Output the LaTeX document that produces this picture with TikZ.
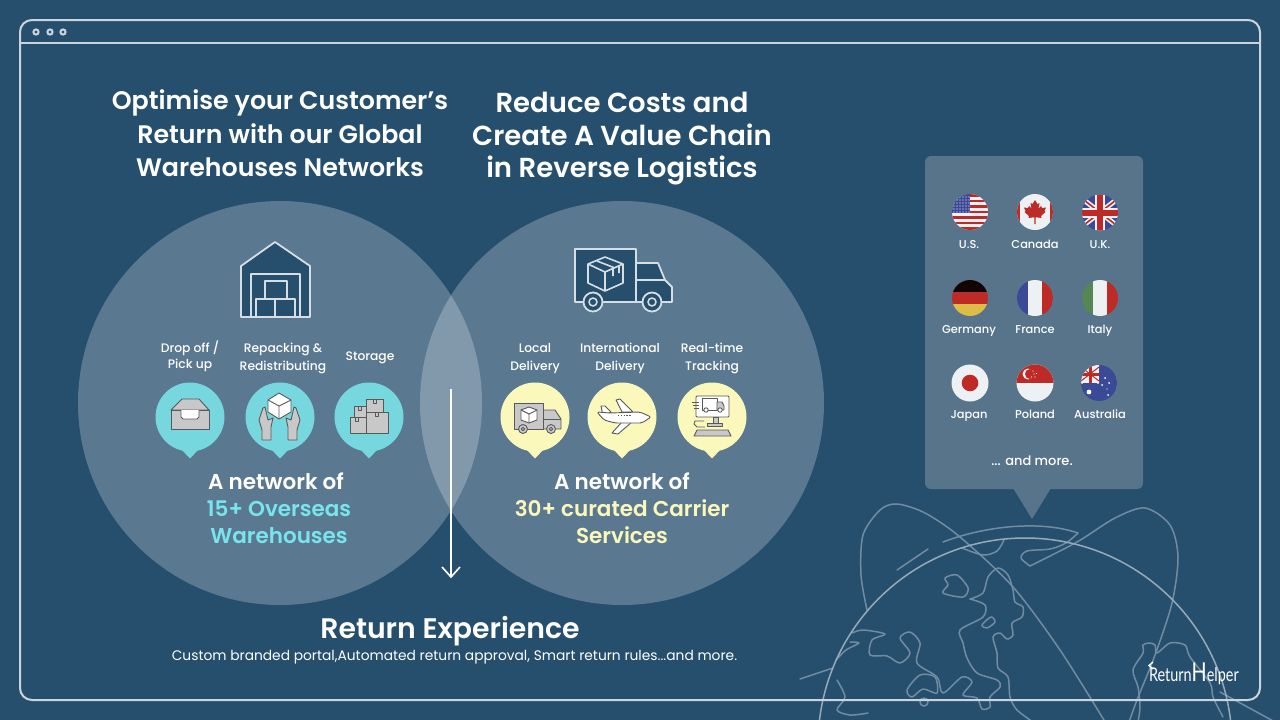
\documentclass[tikz,border=0pt]{standalone}
\usepackage{fontspec}
\setmainfont{Poppins}
\newfontfamily\med{Poppins Medium}
\newfontfamily\semi{Poppins SemiBold}
\definecolor{bgc}{RGB}{38,79,110}
\definecolor{framec}{RGB}{203,212,220}
\definecolor{panelc}{RGB}{87,116,138}
\definecolor{tealc}{RGB}{118,215,222}
\definecolor{tealt}{RGB}{122,228,236}
\definecolor{yelc}{RGB}{251,248,188}
\definecolor{globec}{RGB}{112,140,162}
\definecolor{globem}{RGB}{150,170,186}
\definecolor{icong}{RGB}{200,200,200}
\definecolor{icons}{RGB}{88,89,91}
\definecolor{iconl}{RGB}{215,222,226}
\definecolor{fred}{RGB}{190,42,38}
\definecolor{fblue}{RGB}{58,74,150}
\definecolor{fwhite}{RGB}{238,241,244}
\definecolor{fgreen}{RGB}{85,135,85}
\definecolor{fgold}{RGB}{220,190,70}
\newcommand{\fs}[1]{\fontsize{#1}{#1}\selectfont\vrule width 0pt height .98em depth .2em\relax}
\newcommand{\fm}[1]{\med\fs{#1}}
\newcommand{\fb}[1]{\semi\fs{#1}}
\newcommand{\bubble}[2]{\fill[#1] (#2,417) circle[radius=34.5];
  \fill[#1] (#2-9,449) -- (#2,458.5) -- (#2+9,449) -- cycle;}
\tikzset{
  x=1pt,y=-1pt,
  txt/.style={inner sep=0pt,outer sep=0pt,text=#1,align=center},
  txt/.default=white,
  globeline/.style={draw=globec,line width=1.5pt,line join=round,line cap=round},
  bigicon/.style={draw=iconl,line width=1.8pt,fill=bgc,line join=round},
  bigline/.style={draw=iconl,line width=1.6pt,line join=round},
  smallicon/.style={draw=icons,line width=0.9pt,fill=icong,line join=round},
  smallwhite/.style={draw=icons,line width=0.9pt,fill=white,line join=round},
  smallline/.style={draw=icons,line width=0.9pt,line join=round},
}
\begin{document}
\begin{tikzpicture}
\useasboundingbox (0,0) rectangle (1280,720);
\clip (0,0) rectangle (1280,720);
\fill[bgc] (0,0) rectangle (1280,720);

% globe
\begin{scope}[globeline]
\draw (943,542) .. controls (985,526) and (1040,520) .. (1078,533);
\draw (897,570) -- (928,549);
\draw plot[smooth] coordinates {(867,610) (861,575) (863,535) (880,510) (897,504) (925,513) (960,537) (1013,587) (1060,650) (1107,725)};
\draw plot[smooth] coordinates {(1030,566) (1077,542) (1115,518) (1145,508) (1170,525) (1178,557) (1172,603) (1155,655) (1137,700) (1128,725)};
\draw plot[smooth] coordinates {(1030,566) (1021,558) (1027,551) (1050,549) (1066,543) (1078,533)};
\draw (800,679) -- (833,668);
\draw (1220,692) -- (1275,722);
\draw plot[smooth] coordinates {(962,548) (983,555) (997,551) (1004,540)};
% continents
\draw plot[smooth] coordinates {(970,599) (983,593) (988,577) (998,568) (1008,575) (1013,590) (1015,602) (1023,607) (1022,617) (1012,623) (1013,635) (1007,639) (1000,633) (993,637) (997,653) (998,668) (1008,677) (1010,697) (1017,710) (1033,722)};
\draw plot[smooth] coordinates {(970,599) (985,605) (983,617) (960,630) (963,643) (967,658) (977,673) (997,680) (1000,687) (990,697) (990,707) (982,709) (977,698) (963,695) (972,682) (962,677) (943,693) (937,677) (917,663) (920,643) (910,632) (900,638) (910,653) (900,663) (887,656) (870,655) (872,640) (885,634) (863,630) (852,633)};
\draw plot[smooth cycle] coordinates {(945,578) (957,575) (968,588) (963,597) (943,593) (948,585)};
\draw plot[smooth cycle] coordinates {(982,625) (991,617) (995,622) (987,628)};
\draw plot[smooth cycle] coordinates {(907,690) (920,675) (935,677) (937,693) (923,689) (912,697)};
\draw (924,702) circle[radius=4];
\draw plot[smooth] coordinates {(850,642) (859,643) (846,650) (836,660)};
\draw plot[smooth] coordinates {(837,680) (845,697) (837,710) (850,715) (868,713)};
\draw plot[smooth] coordinates {(1138,722) (1140,707) (1138,687) (1133,670) (1143,653) (1143,645) (1149,643) (1155,645) (1157,653) (1170,643) (1185,645) (1190,657) (1210,683) (1213,697) (1223,717)};
\draw[draw=globem] (1025,745) circle[radius=207];
\end{scope}

% frame
\draw[framec,line width=2pt,rounded corners=12pt] (20,20) rectangle (1260,700);
\draw[framec,line width=2pt] (20,43) -- (1260,43);
\foreach \dx in {36,50,63}{\draw[framec,line width=2pt] (\dx,32) circle[radius=2.6];}

% circles
\fill[white,opacity=.244] (280,403) circle[radius=202];
\fill[white,opacity=.244] (622,403) circle[radius=202];

% titles
\node[txt] (t1a) at (280,100) {\fb{25.3}Optimise your Customer’s};
\node[txt] (t1b) at (280,134) {\fb{25.3}Return with our Global};
\node[txt] (t1c) at (280,167) {\fb{25.3}Warehouses Networks};
\node[txt] (t2a) at (622,102) {\fb{27.5}Reduce Costs and};
\node[txt] (t2b) at (622,135) {\fb{27.5}Create A Value Chain};
\node[txt] (t2c) at (622,168) {\fb{27.5}in Reverse Logistics};

% warehouse icon
\draw[bigicon] (241,317) -- (241,266) -- (275,242) -- (310,266) -- (310,317) -- cycle;
\draw[bigline] (251,317) -- (251,274) -- (300,274) -- (300,317);
\draw[bigline] (265,299) -- (265,281) -- (287,281) -- (287,299);
\draw[bigline] (256,317) -- (256,299) -- (295,299) -- (295,317);
\draw[bigline] (275,299) -- (275,317);

% big truck
\draw[bigicon] (636,263) -- (658,263) -- (665,280) -- (672,287) -- (672,302) -- (636,302) -- cycle;
\draw[bigicon] (575,249) rectangle (636,302);
\draw[bigline] (636,280) -- (665,280);
\draw[bigicon] (593,302) circle[radius=9.5];
\draw[bigline] (593,302) circle[radius=4];
\draw[bigicon] (652,302) circle[radius=9.5];
\draw[bigline] (652,302) circle[radius=4];
\draw[bigline] (605,257) -- (623,264) -- (623,283) -- (605,291) -- (588,283) -- (588,264) -- cycle;
\draw[bigline] (588,264) -- (605,272) -- (623,264) (605,272) -- (605,291);
\draw[bigline] (597,261) -- (615,268) (613,267) -- (613,276) (619,266)--(619,273);

% bubbles
\bubble{tealc}{190}
\bubble{tealc}{280}
\bubble{tealc}{369}
\bubble{yelc}{535}
\bubble{yelc}{622}
\bubble{yelc}{712}

% drawer icon
\draw[smallicon] (171,410) -- (182,399) -- (199,399) -- (209,410) -- cycle;
\draw[smallicon] (171,410) rectangle (209,429);
\draw[smallwhite] (181,410) -- (181,417) -- (183,419) -- (197,419) -- (199,417) -- (199,410);

% hands and cube
\draw[smallwhite] (279,393) -- (291,400) -- (291,412) -- (279,419) -- (268,412) -- (268,400) -- cycle;
\draw[smallline] (268,400) -- (279,406) -- (291,400) (279,406) -- (279,419);
\draw[smallicon] (262,440) -- (271,440) -- (271,427) -- (273,418) -- (268,420) -- (265,407) -- (263,408) -- (259,420) -- (262,430) -- cycle;
\draw[smallicon] (297,440) -- (288,440) -- (288,427) -- (286,418) -- (291,420) -- (294,407) -- (296,408) -- (300,420) -- (297,430) -- cycle;

% boxes
\draw[smallicon] (354,406) rectangle (366,417);
\draw[smallicon] (366,399) rectangle (383,412);
\draw[smallicon] (350,417) rectangle (366,433);
\draw[smallicon] (366,412) rectangle (388,433);
\draw[smallline] (358,406)--(358,410)--(361,410)--(361,406);
\draw[smallline] (373,399)--(373,403)--(376,403)--(376,399);
\draw[smallline] (355,417)--(355,421)--(358,421)--(358,417);
\draw[smallline] (375,412)--(375,416)--(378,416)--(378,412);

% small truck
\draw[smallicon] (543,410) -- (555,410) -- (561,419) -- (561,429) -- (543,429) -- cycle;
\draw[smallline] (543,419) -- (561,419);
\draw[smallicon] (514,403) rectangle (543,429);
\draw[smallwhite] (529,407) -- (537,410) -- (537,420) -- (529,423) -- (521,420) -- (521,410) -- cycle;
\draw[smallline] (521,410) -- (529,414) -- (537,410) (529,414) -- (529,423);
\draw[smallicon] (523,429) circle[radius=4.5];
\draw[smallline] (523,429) circle[radius=1.8];
\draw[smallicon] (551,429) circle[radius=4.5];
\draw[smallline] (551,429) circle[radius=1.8];

% plane
\draw[smallwhite] (616,400) -- (620,399) -- (633,412) -- (622,412) -- cycle;
\draw[smallwhite] (612,433) -- (618,434) -- (632,422) -- (622,422) -- cycle;
\draw[smallwhite] (601,406) -- (605,406) -- (611,412) -- (603,416) -- cycle;
\draw[smallwhite,rounded corners=2pt] (597,412) -- (610,413) -- (640,412) -- (651,417) -- (642,423) -- (615,423) -- (604,420) -- cycle;
\draw[icons,line width=1.2pt,dash pattern=on 1.4pt off 1.4pt] (618,415.5) -- (631,415.5);

% tracking icon
\draw[smallwhite,rounded corners=1pt] (696,396) rectangle (729,417);
\draw[smallwhite] (702,398) rectangle (717,410);
\draw[smallicon] (717,402) -- (722,402) -- (724,406) -- (724,410) -- (717,410) -- cycle;
\draw[smallwhite] (706,410) circle[radius=2.2];
\draw[smallwhite] (720,410) circle[radius=2.2];
\draw[smallicon] (713,417) rectangle (718,423);
\draw[smallicon] (707,423) rectangle (722,426);
\draw[smallicon] (697,430) -- (728,430) -- (731,436) -- (694,436) -- cycle;
\draw[smallline] (692,402) -- (699,402) (693,405) -- (699,405) (694,408) -- (699,408);
\draw[smallline] (704,421) -- (695,421) -- (694,424) -- (697,427) -- (705,427);

% small labels
\node[txt] (d1) at (190,348) {\fm{12.3}Drop off /};
\node[txt] (d2) at (190,364) {\fm{12.3}Pick up};
\node[txt] (r1) at (283,348) {\fm{12.3}Repacking \&};
\node[txt] (r2) at (283,366) {\fm{12.3}Redistributing};
\node[txt] (s1) at (370,356) {\fm{12.3}Storage};
\node[txt] (l1) at (535,348) {\fm{12.3}Local};
\node[txt] (l2) at (535,366) {\fm{12.3}Delivery};
\node[txt] (i1) at (620,348) {\fm{12.3}International};
\node[txt] (i2) at (620,366) {\fm{12.3}Delivery};
\node[txt] (rt1) at (712,348) {\fm{12.3}Real-time};
\node[txt] (rt2) at (712,366) {\fm{12.3}Tracking};

% network text
\node[txt] (n1) at (276,481) {\fb{21.5}A network of};
\node[txt=tealt] (n2) at (279,508) {\fb{21.5}15+ Overseas};
\node[txt=tealt] (n3) at (279,535) {\fb{21.5}Warehouses};
\node[txt] (m1) at (622,481) {\fb{21.5}A network of};
\node[txt=yelc] (m2) at (622,508) {\fb{21.5}30+ curated Carrier};
\node[txt=yelc] (m3) at (622,535) {\fb{21.5}Services};

% arrow
\coordinate (arS) at (451,389);
\coordinate (arE) at (451,577);
\coordinate (arL) at (442,567);
\coordinate (arR) at (460,567);
\draw[white,line width=1.6pt] (arS) -- (arE);
\draw[white,line width=1.6pt,line join=miter] (arL) -- (arE) -- (arR);

% bottom text
\node[txt] (b1) at (450,628) {\fb{28.3}Return Experience};
\node[txt] (b2) at (454.5,656) {\fs{13.8}Custom branded portal,Automated return approval, Smart return rules...and more.};

% panel
\fill[panelc,rounded corners=6pt] (925,156) rectangle (1143,489);
\fill[panelc] (1013,488) -- (1051,488) -- (1032,519) -- cycle;

% flags
\begin{scope}[shift={(970,212)}]
\clip (0,0) circle[radius=18];
\fill[fwhite] (-18,-18) rectangle (18,18);
\foreach \i in {0,2,...,12}{\fill[fred] (-18,-18+\i*2.77) rectangle (18,-18+\i*2.77+2.77);}
\fill[fblue] (-18,-18) rectangle (0,1.4);
\foreach \yy in {-15,-12,...,0}{\foreach \xx in {-16,-13,...,-1}{\fill[white] (\xx,\yy) circle[radius=.6];}}
\end{scope}
\begin{scope}[shift={(1035,212)}]
\clip (0,0) circle[radius=18];
\fill[fwhite] (-18,-18) rectangle (18,18);
\fill[fred] (-18,-18) rectangle (-15,18);
\fill[fred] (15,-18) rectangle (18,18);
\fill[fred] (0,-12) -- (2.5,-8) -- (4.5,-9) -- (3.5,-3.5) -- (6,-6) -- (7,-4) -- (11,-4.5) -- (9.5,-1) -- (10.5,0) -- (6,4) -- (6.5,6) -- (.6,5.2) -- (.6,12) -- (-.6,12) -- (-.6,5.2) -- (-6.5,6) -- (-6,4) -- (-10.5,0) -- (-9.5,-1) -- (-11,-4.5) -- (-7,-4) -- (-6,-6) -- (-3.5,-3.5) -- (-4.5,-9) -- (-2.5,-8) -- cycle;
\end{scope}
\begin{scope}[shift={(1100,212.5)}]
\clip (0,0) circle[radius=18];
\fill[fblue] (-18,-18) rectangle (18,18);
\draw[fwhite,line width=5pt] (-18,-14) -- (18,14) (-18,14) -- (18,-14);
\draw[fred,line width=1.6pt] (-18,-14) -- (18,14) (-18,14) -- (18,-14);
\draw[fwhite,line width=10pt] (-18,0) -- (18,0) (0,-18) -- (0,18);
\draw[fred,line width=6pt] (-18,0) -- (18,0) (0,-18) -- (0,18);
\end{scope}
\begin{scope}[shift={(970,298)}]
\clip (0,0) circle[radius=18];
\fill[black!90!fred] (-18,-18) rectangle (18,-6);
\fill[fred] (-18,-6) rectangle (18,6);
\fill[fgold] (-18,6) rectangle (18,18);
\end{scope}
\begin{scope}[shift={(1035,298)}]
\clip (0,0) circle[radius=18];
\fill[fblue] (-18,-18) rectangle (-7,18);
\fill[fwhite] (-7,-18) rectangle (7,18);
\fill[fred] (7,-18) rectangle (18,18);
\end{scope}
\begin{scope}[shift={(1100,298)}]
\clip (0,0) circle[radius=18];
\fill[fgreen] (-18,-18) rectangle (-7,18);
\fill[fwhite] (-7,-18) rectangle (7,18);
\fill[fred] (7,-18) rectangle (18,18);
\end{scope}
\begin{scope}[shift={(970,383)}]
\fill[fwhite] (0,0) circle[radius=18.5];
\fill[fred] (0,0) circle[radius=8.3];
\end{scope}
\begin{scope}[shift={(1035,383)}]
\clip (0,0) circle[radius=18.5];
\fill[fwhite] (-19,-19) rectangle (19,19);
\fill[fred] (-19,-19) rectangle (19,0);
\fill[fwhite] (-7,-9) circle[radius=5.5];
\fill[fred] (-5,-9) circle[radius=5];
\foreach \px/\py in {-2/-12,1.5/-9.5,0/-6,-3.5/-6,-1/-9}{\fill[fwhite] (\px,\py) circle[radius=.7];}
\end{scope}
\begin{scope}[shift={(1099,383)}]
\clip (0,0) circle[radius=18];
\fill[fblue] (-18,-18) rectangle (18,18);
\begin{scope}
\clip (-18,-18) rectangle (0,0);
\fill[fwhite] (-18,-18) rectangle (0,0);
\draw[fwhite,line width=3pt] (-18,-18) -- (0,0) (-18,0) -- (0,-18);
\draw[fred,line width=1pt] (-18,-16) -- (0,-2) (-18,-2) -- (0,-16);
\draw[fred,line width=3pt] (-18,-9) -- (0,-9) (-9,-18) -- (-9,0);
\end{scope}
\foreach \px/\py/\pr in {-10/9/2.4,6/-5/1,10/0/1,3/2/1,9/12/1,8/6/.7}{\fill[white] (\px,\py) circle[radius=\pr];}
\end{scope}

% flag labels
\node[txt] (f1) at (969,244) {\fm{11.4}U.S.};
\node[txt] (f2) at (1035,244) {\fm{11.4}Canada};
\node[txt] (f3) at (1100,244) {\fm{11.4}U.K.};
\node[txt] (f4) at (969,329) {\fm{11.4}Germany};
\node[txt] (f5) at (1035,329) {\fm{11.4}France};
\node[txt] (f6) at (1100,329) {\fm{11.4}Italy};
\node[txt] (f7) at (969,414) {\fm{11.4}Japan};
\node[txt] (f8) at (1035,414) {\fm{11.4}Poland};
\node[txt] (f9) at (1100,414) {\fm{11.4}Australia};
\node[txt] (f10) at (1032,460) {\fm{13}... and more.};

% logo
\node[txt,anchor=west] (logo) at (1149,673.5) {\scalebox{.76}[1]{\fontspec{Lato}\fontsize{19}{19}\selectfont Return\fontsize{26}{26}\selectfont H\fontsize{19}{19}\selectfont elper}};
\draw[white,line width=1.4pt] (1153,662) -- (1149,665.5) -- (1153,669);
\end{tikzpicture}
\end{document}
